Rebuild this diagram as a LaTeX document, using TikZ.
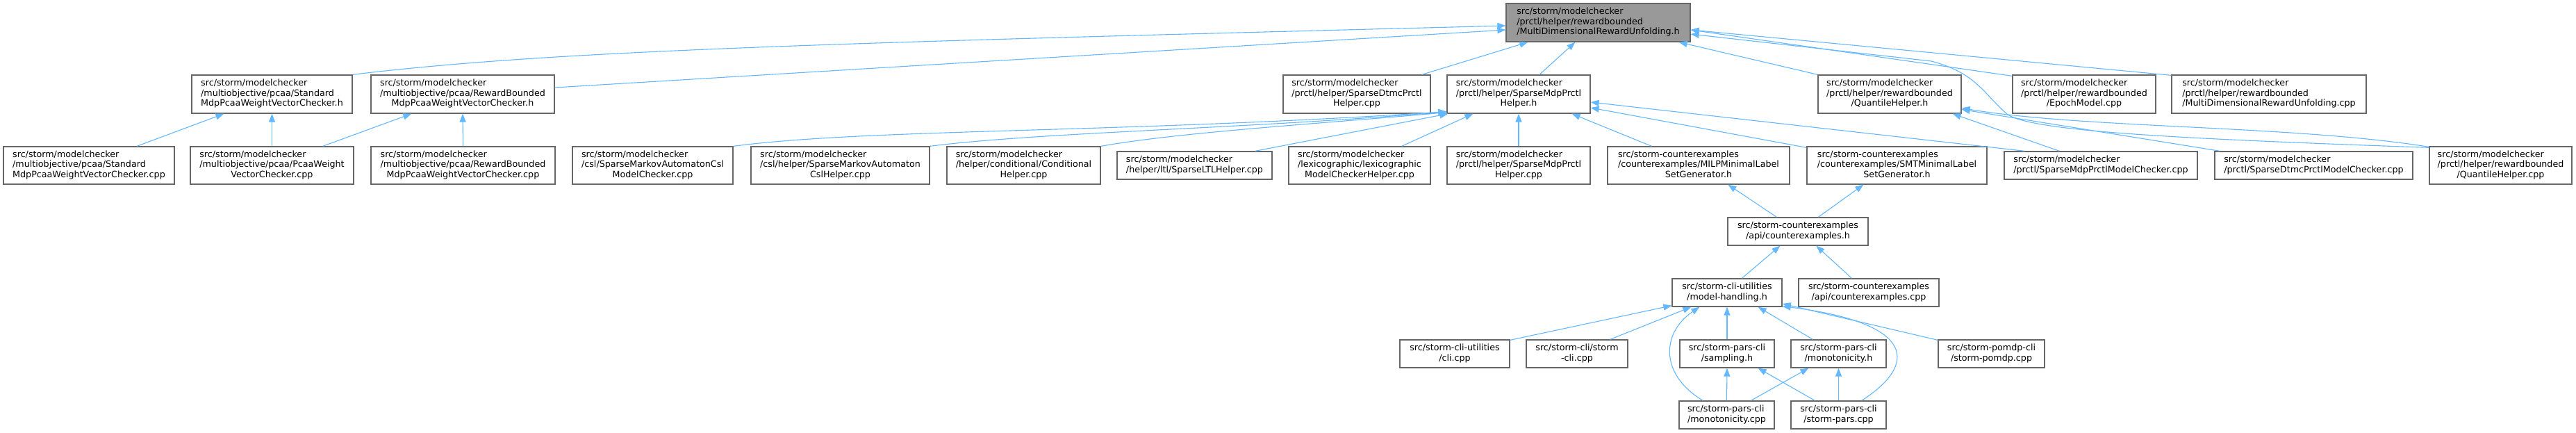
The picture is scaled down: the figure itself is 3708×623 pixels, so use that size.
\documentclass[tikz,border=0pt]{standalone}
\usepackage{fontspec}
\setmainfont{DejaVu Sans}
\usetikzlibrary{arrows.meta,calc}
\definecolor{boxgray}{HTML}{666666}
\definecolor{maingray}{HTML}{999999}
\definecolor{edgeblue}{HTML}{63B8FF}
\newcommand{\fs}{\fontsize{12.7}{14.5}\selectfont}
\newcommand{\Tthree}[3]{\begin{tabular}{@{}l@{}}#1\\#2\\\multicolumn{1}{@{}c@{}}{#3}\end{tabular}}
\newcommand{\Ttwo}[2]{\begin{tabular}{@{}l@{}}#1\\\multicolumn{1}{@{}c@{}}{#2}\end{tabular}}
\tikzset{
  box/.style={draw=boxgray, line width=1.3pt, fill=white, inner sep=0pt, font=\fs},
  mainbox/.style={box, fill=maingray},
  edge/.style={draw=edgeblue, line width=1.1pt, -{Triangle[length=12pt,width=9pt]}},
}
\begin{document}
\begin{tikzpicture}[x=1pt,y=-1pt]
\fill[white] (0,0) rectangle (3708,623);
\useasboundingbox (0,0) rectangle (3708,623);
% row 1
\node[mainbox, minimum width=265pt, minimum height=55pt] (Main) at (2300.5,32.5) {\Tthree{src/storm/modelchecker}{/prctl/helper/rewardbounded}{/MultiDimensionalRewardUnfolding.h}};
% row 2
\node[box, minimum width=231pt, minimum height=55pt] (StdH) at (391.5,135.5) {\Tthree{src/storm/modelchecker}{/multiobjective/pcaa/Standard}{MdpPcaaWeightVectorChecker.h}};
\node[box, minimum width=264pt, minimum height=55pt] (RBH) at (666,135.5) {\Tthree{src/storm/modelchecker}{/multiobjective/pcaa/RewardBounded}{MdpPcaaWeightVectorChecker.h}};
\node[box, minimum width=212pt, minimum height=55pt] (DtmcHC) at (1953,135.5) {\Tthree{src/storm/modelchecker}{/prctl/helper/SparseDtmcPrctl}{Helper.cpp}};
\node[box, minimum width=206pt, minimum height=55pt] (MdpHH) at (2186,135.5) {\Tthree{src/storm/modelchecker}{/prctl/helper/SparseMdpPrctl}{Helper.h}};
\node[box, minimum width=206pt, minimum height=55pt] (QuantH) at (2720,135.5) {\Tthree{src/storm/modelchecker}{/prctl/helper/rewardbounded}{/QuantileHelper.h}};
\node[box, minimum width=206pt, minimum height=55pt] (Epoch) at (3000,135.5) {\Tthree{src/storm/modelchecker}{/prctl/helper/rewardbounded}{/EpochModel.cpp}};
\node[box, minimum width=280pt, minimum height=55pt] (MDRUcpp) at (3266,135.5) {\Tthree{src/storm/modelchecker}{/prctl/helper/rewardbounded}{/MultiDimensionalRewardUnfolding.cpp}};
% row 3
\node[box, minimum width=246pt, minimum height=54pt] (StdCpp) at (128,238) {\Tthree{src/storm/modelchecker}{/multiobjective/pcaa/Standard}{MdpPcaaWeightVectorChecker.cpp}};
\node[box, minimum width=235pt, minimum height=54pt] (PcaaCpp) at (391.5,238) {\Tthree{src/storm/modelchecker}{/multiobjective/pcaa/PcaaWeight}{VectorChecker.cpp}};
\node[box, minimum width=265pt, minimum height=54pt] (RBCpp) at (666.5,238) {\Tthree{src/storm/modelchecker}{/multiobjective/pcaa/RewardBounded}{MdpPcaaWeightVectorChecker.cpp}};
\node[box, minimum width=231pt, minimum height=54pt] (CslMC) at (939.5,238) {\Tthree{src/storm/modelchecker}{/csl/SparseMarkovAutomatonCsl}{ModelChecker.cpp}};
\node[box, minimum width=257pt, minimum height=54pt] (CslHelper) at (1209.5,238) {\Tthree{src/storm/modelchecker}{/csl/helper/SparseMarkovAutomaton}{CslHelper.cpp}};
\node[box, minimum width=221pt, minimum height=54pt] (CondHelper) at (1473.5,238) {\Tthree{src/storm/modelchecker}{/helper/conditional/Conditional}{Helper.cpp}};
\node[box, minimum width=223pt, minimum height=40pt] (LTL) at (1719.5,238) {\Ttwo{src/storm/modelchecker}{/helper/ltl/SparseLTLHelper.cpp}};
\node[box, minimum width=204pt, minimum height=54pt] (lexico) at (1957,238) {\Tthree{src/storm/modelchecker}{/lexicographic/lexicographic}{ModelCheckerHelper.cpp}};
\node[box, minimum width=206pt, minimum height=54pt] (MdpHCpp) at (2186,238) {\Tthree{src/storm/modelchecker}{/prctl/helper/SparseMdpPrctl}{Helper.cpp}};
\node[box, minimum width=262pt, minimum height=54pt] (MILP) at (2445,238) {\Tthree{src/storm-counterexamples}{/counterexamples/MILPMinimalLabel}{SetGenerator.h}};
\node[box, minimum width=259pt, minimum height=54pt] (SMT) at (2730.5,238) {\Tthree{src/storm-counterexamples}{/counterexamples/SMTMinimalLabel}{SetGenerator.h}};
\node[box, minimum width=278pt, minimum height=40pt] (MdpPrctlMC) at (3024,238) {\Ttwo{src/storm/modelchecker}{/prctl/SparseMdpPrctlModelChecker.cpp}};
\node[box, minimum width=285pt, minimum height=40pt] (DtmcPrctlMC) at (3330.5,238) {\Ttwo{src/storm/modelchecker}{/prctl/SparseDtmcPrctlModelChecker.cpp}};
\node[box, minimum width=205pt, minimum height=54pt] (QuantCpp) at (3599.5,238) {\Tthree{src/storm/modelchecker}{/prctl/helper/rewardbounded}{/QuantileHelper.cpp}};
% row 4
\node[box, minimum width=202pt, minimum height=40pt] (CEh) at (2588,333) {\Ttwo{src/storm-counterexamples}{/api/counterexamples.h}};
% row 5
\node[box, minimum width=158pt, minimum height=40pt] (MH) at (2486,421) {\Ttwo{src/storm-cli-utilities}{/model-handling.h}};
\node[box, minimum width=202pt, minimum height=40pt] (CEcpp) at (2690,421) {\Ttwo{src/storm-counterexamples}{/api/counterexamples.cpp}};
% row 6
\node[box, minimum width=158pt, minimum height=40pt] (cli) at (2094,509) {\Ttwo{src/storm-cli-utilities}{/cli.cpp}};
\node[box, minimum width=146pt, minimum height=40pt] (stormcli) at (2270,509) {\Ttwo{src/storm-cli/storm}{-cli.cpp}};
\node[box, minimum width=136pt, minimum height=40pt] (sampling) at (2486,509) {\Ttwo{src/storm-pars-cli}{/sampling.h}};
\node[box, minimum width=137pt, minimum height=40pt] (monoH) at (2646.5,509) {\Ttwo{src/storm-pars-cli}{/monotonicity.h}};
\node[box, minimum width=153pt, minimum height=40pt] (pomdp) at (2866.5,509) {\Ttwo{src/storm-pomdp-cli}{/storm-pomdp.cpp}};
% row 7
\node[box, minimum width=137pt, minimum height=40pt] (monoCpp) at (2485.5,597) {\Ttwo{src/storm-pars-cli}{/monotonicity.cpp}};
\node[box, minimum width=137pt, minimum height=40pt] (pars) at (2646.5,597) {\Ttwo{src/storm-pars-cli}{/storm-pars.cpp}};
% edges into Main
\draw[edge] (StdH.north east) .. controls (800,72) and (1200,62) .. ($(Main.west)+(0,4.5)$);
\draw[edge] ($(RBH.east)+(0,-9.5)$) -- ($(Main.west)+(0,10.5)$);
\draw[edge] ($(DtmcHC.north east)+(-13,0)$) -- ($(Main.south west)+(32,0)$);
\draw[edge] ($(MdpHH.north)+(30,0)$) -- ($(Main.south west)+(100,0)$);
\draw[edge] (QuantH.north west) -- ($(Main.south east)+(-17,0)$);
\draw[edge] ($(Epoch.north west)+(0,2)$) -- ($(Main.east)+(0,10.5)$);
\draw[edge] ($(MDRUcpp.north west)+(0,1)$) -- ($(Main.east)+(0,10.5)$);
\draw[edge] ($(QuantCpp.north west)+(0,2)$) .. controls (3150,200) and (2930,190) .. (2890,165) .. controls (2855,135) and (2845,105) .. (2780,88) -- ($(Main.east)+(0,16.5)$);
% StdH, RBH
\draw[edge] ($(StdCpp.north)+(69,0)$) -- ($(StdH.south west)+(47,0)$);
\draw[edge] (PcaaCpp.north) -- (StdH.south);
\draw[edge] ($(PcaaCpp.north east)+(-45,0)$) -- ($(RBH.south west)+(59,0)$);
\draw[edge] (RBCpp.north) -- (RBH.south);
% MdpHH
\draw[edge] (CslMC.north east) .. controls (1250,185) and (1600,192) .. ($(MdpHH.south west)+(0,-3)$);
\draw[edge] (CslHelper.north east) .. controls (1500,190) and (1800,185) .. ($(MdpHH.south west)+(0,-3)$);
\draw[edge] (CondHelper.north east) .. controls (1700,190) and (1900,178) .. ($(MdpHH.south west)+(0,-2)$);
\draw[edge] ($(LTL.north east)+(-25,0)$) -- ($(MdpHH.south west)+(2,0)$);
\draw[edge] ($(lexico.north east)+(-42,0)$) -- ($(MdpHH.south west)+(38,0)$);
\draw[edge] (MdpHCpp.north) -- (MdpHH.south);
\draw[edge] ($(MILP.north west)+(64,0)$) -- ($(MdpHH.south east)+(-27,0)$);
\draw[edge] ($(SMT.north west)+(0,2)$) -- ($(MdpHH.east)+(0,19.5)$);
\draw[edge] ($(MdpPrctlMC.north west)+(30,0)$) -- ($(MdpHH.east)+(0,11.5)$);
% QuantH
\draw[edge] ($(MdpPrctlMC.north west)+(80,0)$) -- ($(QuantH.south east)+(-13,0)$);
\draw[edge] ($(DtmcPrctlMC.north west)+(8,0)$) -- ($(QuantH.east)+(0,22)$);
\draw[edge] ($(QuantCpp.north west)+(0,1)$) .. controls (3300,180) and (3000,185) .. ($(QuantH.east)+(0,20)$);
% counterexamples
\draw[edge] ($(CEh.north west)+(71,0)$) -- ($(MILP.south west)+(174,0)$);
\draw[edge] ($(CEh.north west)+(131,0)$) -- ($(SMT.south west)+(82,0)$);
\draw[edge] ($(MH.north west)+(101,0)$) -- ($(CEh.south west)+(76,0)$);
\draw[edge] ($(CEcpp.north west)+(77,0)$) -- ($(CEh.south west)+(128,0)$);
% model-handling
\draw[edge] ($(cli.north east)+(0,1)$) -- ($(MH.south west)+(0,-2)$);
\draw[edge] ($(stormcli.north east)+(-26,0)$) -- ($(MH.south west)+(28,0)$);
\draw[edge] ($(monoCpp.north west)+(35,0)$) .. controls (2390,540) and (2390,480) .. ($(MH.south west)+(40,0)$);
\draw[edge] (sampling.north) -- (MH.south);
\draw[edge] ($(monoH.north west)+(32,0)$) -- ($(MH.south east)+(-35,0)$);
\draw[edge] ($(pars.north east)+(-36,0)$) .. controls (2760,525) and (2760,465) .. ($(MH.south east)+(0,-1)$);
\draw[edge] ($(pomdp.north west)+(0,1)$) -- ($(MH.east)+(0,16)$);
% sampling, monotonicity
\draw[edge] (monoCpp.north) -- (sampling.south);
\draw[edge] ($(pars.north west)+(35,0)$) -- ($(sampling.south east)+(-24,0)$);
\draw[edge] ($(monoCpp.north west)+(104,0)$) -- ($(monoH.south west)+(26,0)$);
\draw[edge] (pars.north) -- (monoH.south);
\end{tikzpicture}
\end{document}
